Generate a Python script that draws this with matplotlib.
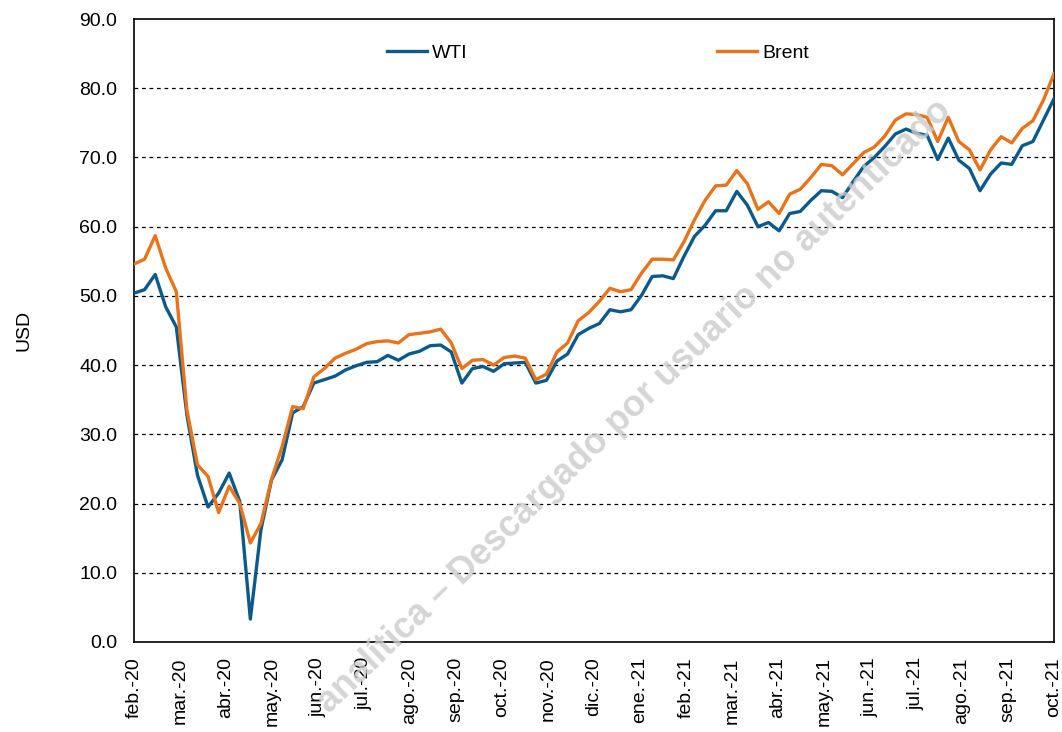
import numpy as np
import matplotlib.pyplot as plt

plt.rcParams['font.family'] = ['Liberation Sans', 'DejaVu Sans']

# weekly prices, feb-20 .. oct-21 (USD)
wti = [50.4, 50.9, 53.1, 48.4, 45.5, 32.8, 24.1, 19.5, 21.5, 24.4,
       20.3, 3.3, 16.2, 23.4, 26.3, 33.1, 34.0, 37.4, 37.9, 38.4,
       39.3, 39.9, 40.4, 40.5, 41.4, 40.7, 41.6, 42.0, 42.8, 42.9,
       41.9, 37.4, 39.5, 39.8, 39.1, 40.2, 40.3, 40.4, 37.4, 37.8,
       40.6, 41.6, 44.4, 45.3, 46.0, 48.0, 47.7, 48.0, 50.1, 52.8,
       52.9, 52.5, 55.7, 58.6, 60.2, 62.3, 62.3, 65.1, 63.1, 60.0,
       60.6, 59.4, 61.9, 62.2, 63.8, 65.2, 65.1, 64.2, 66.5, 68.7,
       70.0, 71.6, 73.4, 74.1, 73.5, 73.2, 69.7, 72.8, 69.6, 68.4,
       65.2, 67.6, 69.2, 69.0, 71.7, 72.3, 75.4, 78.5]

brent = [54.6, 55.3, 58.7, 54.0, 50.6, 33.5, 25.6, 23.9, 18.7, 22.5,
         20.0, 14.3, 17.1, 23.5, 28.2, 34.0, 33.7, 38.3, 39.5, 41.0,
         41.7, 42.3, 43.1, 43.4, 43.5, 43.2, 44.4, 44.6, 44.8, 45.2,
         43.2, 39.5, 40.7, 40.8, 40.0, 41.1, 41.3, 41.0, 37.9, 38.7,
         41.9, 43.2, 46.4, 47.6, 49.2, 51.1, 50.6, 50.9, 53.3, 55.3,
         55.3, 55.2, 57.8, 61.0, 63.8, 65.9, 66.0, 68.1, 66.2, 62.5,
         63.6, 61.9, 64.7, 65.4, 67.1, 69.0, 68.8, 67.5, 69.1, 70.7,
         71.5, 73.1, 75.4, 76.3, 76.2, 75.8, 72.3, 75.8, 72.3, 71.1,
         68.2, 71.1, 73.0, 72.1, 74.2, 75.3, 78.3, 82.1]

month_labels = ['feb.-20', 'mar.-20', 'abr.-20', 'may.-20', 'jun.-20', 'jul.-20',
                'ago.-20', 'sep.-20', 'oct.-20', 'nov.-20', 'dic.-20', 'ene.-21',
                'feb.-21', 'mar.-21', 'abr.-21', 'may.-21', 'jun.-21', 'jul.-21',
                'ago.-21', 'sep.-21', 'oct.-21']

x = np.arange(len(wti))

fig = plt.figure(figsize=(10.62, 7.32), dpi=100)
ax = fig.add_axes([0.1262, 0.1230, 0.8663, 0.8510])

ax.plot(x, wti, color='#0B5A8A', lw=2.4, label='WTI', zorder=3)
ax.plot(x, brent, color='#E8731A', lw=2.4, label='Brent', zorder=3)

ax.set_xlim(0, len(wti) - 1)
ax.set_ylim(0, 90)
ax.set_yticks(np.arange(0, 91, 10))
ax.set_yticklabels([f'{v:.1f}' for v in np.arange(0, 91, 10)], fontsize=14)
ax.set_xticks(np.linspace(0, len(wti) - 1, len(month_labels)))
ax.set_xticklabels(month_labels, rotation=90, fontsize=14)
ax.tick_params(axis='x', length=0, pad=11)
ax.tick_params(axis='y', length=0, pad=12)
ax.set_ylabel('USD', fontsize=14, labelpad=34)

for v in range(10, 90, 10):
    ax.axhline(v, color='black', lw=0.9, ls=(0, (3, 3)), zorder=1)

for s in ax.spines.values():
    s.set_linewidth(1.2)

ax.legend(ncol=2, loc='center', bbox_to_anchor=(0.504, 0.945), frameon=False,
          fontsize=14, handlelength=2.06, handletextpad=0.28, columnspacing=12.8)

# watermark
fig.text(0.597, 0.445, 'analítica – Descargado por usuario no autenticado',
         rotation=44, fontsize=26, fontweight='bold', color='#cbcbcb',
         ha='center', va='center', alpha=0.8, zorder=2)

fig.savefig('out.png', dpi=100)
